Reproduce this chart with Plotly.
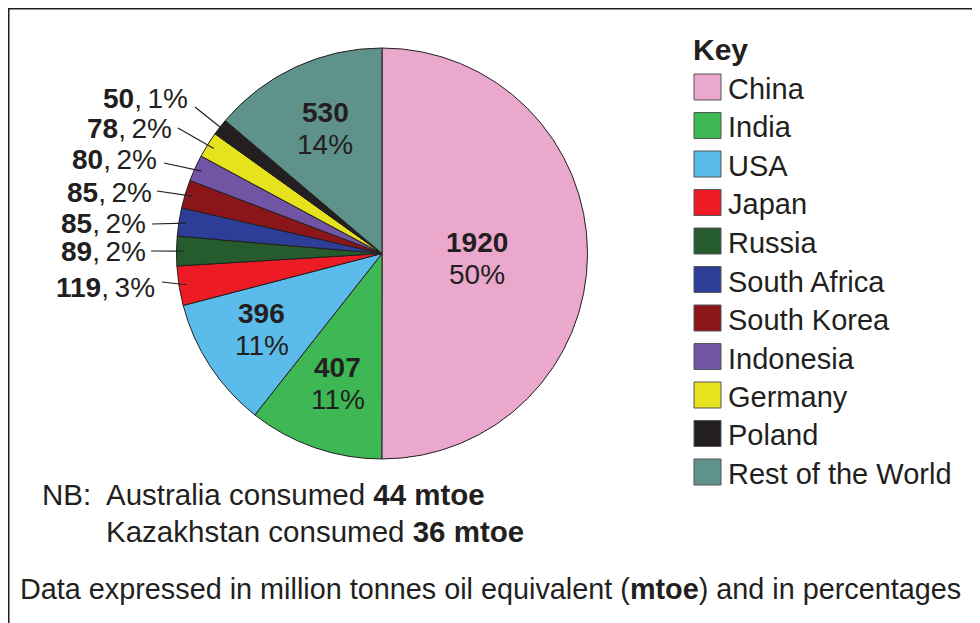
import math
import plotly.graph_objects as go

# ---- data ----
countries = ["China", "India", "USA", "Japan", "Russia", "South Africa",
             "South Korea", "Indonesia", "Germany", "Poland", "Rest of the World"]
mtoe = [1920, 407, 396, 119, 89, 85, 85, 80, 78, 50, 530]
percent_labels = [50, 11, 11, 3, 2, 2, 2, 2, 2, 1, 14]
colors = ["#e9a8cc", "#3db854", "#5bbbea", "#ed1c24", "#265b2e", "#2c3e97",
          "#8b1518", "#7154a3", "#e6e31e", "#231f20", "#5f928a"]
inside_labels = ["China", "India", "USA", "Rest of the World"]
notes = [("Australia", 44), ("Kazakhstan", 36)]

OFF = 8  # page body margin offset
W, H = 980, 623
TXT = "#231f20"
FONT = "Liberation Sans, Arial, sans-serif"

# pie geometry (page pixels)
CX, CY, R = 382.0, 253.5, 205.5


def px(x):
    return (x - OFF) / W


def py(y):
    return 1 - (y - OFF) / H


fig = go.Figure()
fig.add_trace(go.Pie(
    labels=countries, values=mtoe, sort=False, direction="clockwise", rotation=0,
    marker=dict(colors=colors, line=dict(color=TXT, width=1)),
    textinfo="none", hoverinfo="label+value", showlegend=False,
    domain=dict(x=[px(CX - R), px(CX + R)], y=[py(CY + R), py(CY - R)]),
))

total = sum(mtoe)
cum = 0.0
mid_angles = {}
for c, v in zip(countries, mtoe):
    mid_angles[c] = 2 * math.pi * (cum + v / 2) / total
    cum += v


def pt(angle, rf):
    return CX + rf * R * math.sin(angle), CY - rf * R * math.cos(angle)


annotations = []
shapes = []


def ann(x, y, text, size, anchor="left"):
    annotations.append(dict(
        x=px(x), y=py(y), xref="paper", yref="paper", showarrow=False,
        xanchor=anchor, yanchor="middle", text=text,
        font=dict(family=FONT, size=size, color=TXT)))


# inside labels: (radius fraction, vertical nudge)
inside_style = {"China": (0.46, 5), "India": (0.66, 2), "USA": (0.70, -3),
                "Rest of the World": (0.66, -2)}
for c in inside_labels:
    i = countries.index(c)
    rf, dy = inside_style[c]
    x, y = pt(mid_angles[c], rf)
    y += dy
    ann(x, y - 16, f"<b>{mtoe[i]}</b>", 28, "center")
    ann(x, y + 16, f"{percent_labels[i]}%", 28, "center")

# outside labels: (right edge x, centre y, leader outer end)
outside_pos = {
    "Poland": (190, 98, (195, 107)),
    "Germany": (174, 128, (178, 128)),
    "Indonesia": (159, 160, (164, 163)),
    "South Korea": (154, 192, (157, 191)),
    "South Africa": (148, 223, (152, 224)),
    "Russia": (148, 252, (151, 251)),
    "Japan": (157, 287, (162, 282)),
}
for c, (tx, ty, (ox, oy)) in outside_pos.items():
    i = countries.index(c)
    ann(tx, ty, f"<b>{mtoe[i]}</b>,\u2009{percent_labels[i]}%", 28, "right")
    ix, iy = pt(mid_angles[c], 0.965)
    shapes.append(dict(type="line", xref="paper", yref="paper",
                       x0=px(ox), y0=py(oy), x1=px(ix), y1=py(iy),
                       line=dict(color=TXT, width=1.2)))

# key
ann(691, 50, "<b>Key</b>", 30)
row0, step = 89, 38.5
for k, (c, col) in enumerate(zip(countries, colors)):
    yc = row0 + k * step
    shapes.append(dict(type="rect", xref="paper", yref="paper",
                       x0=px(694), x1=px(721), y0=py(yc - 15), y1=py(yc + 11),
                       fillcolor=col, line=dict(color="#555555", width=1)))
    ann(726, yc, c, 29)

# notes
ann(40, 494, "NB:", 29.5)
for k, (name, val) in enumerate(notes):
    ann(104, 494 + k * 37, f"{name} consumed <b>{val} mtoe</b>", 29.5)

ann(18, 589, "Data expressed in million tonnes oil equivalent (<b>mtoe</b>) and in percentages", 28.8)

# frame
shapes.append(dict(type="path", xref="paper", yref="paper",
                   path=f"M {px(8.75)} {py(640)} L {px(8.75)} {py(8.75)} L {px(1000)} {py(8.75)}",
                   line=dict(color=TXT, width=1.5)))

fig.update_layout(
    width=W, height=H, margin=dict(l=0, r=0, t=0, b=0),
    paper_bgcolor="white", plot_bgcolor="white",
    annotations=annotations, shapes=shapes,
    font=dict(family=FONT, color=TXT),
)

fig.write_html("out.html")
